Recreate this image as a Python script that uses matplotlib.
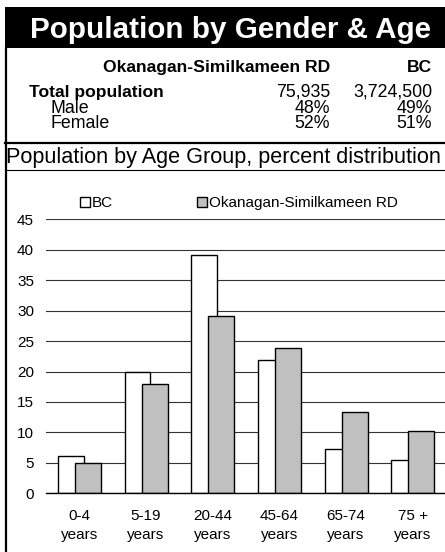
import matplotlib
matplotlib.use("Agg")
import matplotlib.pyplot as plt
from matplotlib.patches import Rectangle, Patch
from matplotlib.lines import Line2D
import numpy as np

plt.rcParams['font.family'] = ['Liberation Sans', 'DejaVu Sans']

title = "Population by Gender & Age"
region = "Okanagan-Similkameen RD"
prov = "BC"
row_labels = ["Total population", "Male", "Female"]
region_vals = ["75,935", "48%", "52%"]
prov_vals = ["3,724,500", "49%", "51%"]
subtitle = "Population by Age Group, percent distribution"

categories = ["0-4\nyears", "5-19\nyears", "20-44\nyears", "45-64\nyears", "65-74\nyears", "75 +\nyears"]
bc_values = [6.2, 20.0, 39.1, 21.9, 7.3, 5.5]
region_values = [5.0, 18.0, 29.2, 23.9, 13.4, 10.3]
yticks = [0, 5, 10, 15, 20, 25, 30, 35, 40, 45]

W, H = 445, 552
fig = plt.figure(figsize=(W / 100, H / 100), dpi=100)

def fx(px):
    return px / W

def fy(py):
    return 1 - py / H

# Black title bar
fig.patches.append(Rectangle((fx(5), fy(48)), fx(445) - fx(5), fy(7) - fy(48),
                             transform=fig.transFigure, facecolor='black', edgecolor='none'))
fig.text(fx(30), fy(37.7), title, color='white', fontsize=21.3, fontweight='bold',
         ha='left', va='baseline')

# frame lines
fig.lines.append(Line2D([fx(6), fx(6)], [fy(48), fy(552)], transform=fig.transFigure,
                        color='black', lw=1.6))
fig.lines.append(Line2D([fx(5), fx(445)], [fy(143), fy(143)], transform=fig.transFigure,
                        color='black', lw=1.6))
fig.lines.append(Line2D([fx(5), fx(445)], [fy(169.5), fy(169.5)], transform=fig.transFigure,
                        color='black', lw=0.8))

# table
tfs = 12.8
bfs = 12.6
fig.text(fx(330), fy(71.7), region, fontsize=bfs, fontweight='bold', ha='right', va='baseline')
fig.text(fx(432), fy(71.7), prov, fontsize=bfs, fontweight='bold', ha='right', va='baseline')
row_y = [96.7, 112.7, 128.3]
row_x = [29, 50, 50]
for i, lab in enumerate(row_labels):
    fig.text(fx(row_x[i]), fy(row_y[i]), lab, fontsize=bfs if i == 0 else tfs,
             fontweight='bold' if i == 0 else 'normal', ha='left', va='baseline')
    fig.text(fx(330), fy(row_y[i]), region_vals[i], fontsize=tfs, ha='right', va='baseline')
    fig.text(fx(432), fy(row_y[i]), prov_vals[i], fontsize=tfs, ha='right', va='baseline')

fig.text(fx(6), fy(163.3), subtitle, fontsize=15.6, ha='left', va='baseline')

# chart
ax = fig.add_axes([fx(46), fy(493.3), fx(446) - fx(46), fy(219.3) - fy(493.3)])
x = np.arange(len(categories))
ax.bar(x - 0.13, bc_values, width=0.385, color='white', edgecolor='black', linewidth=1.0,
       zorder=3, label=prov)
ax.bar(x + 0.13, region_values, width=0.39, color='#c0c0c0', edgecolor='black', linewidth=1.0,
       zorder=4, label=region)
ax.set_xlim(-0.5, len(categories) - 0.5)
ax.set_ylim(0, 45)
ax.set_yticks(yticks)
ax.set_yticklabels([str(v) for v in yticks], fontsize=11)
ax.set_xticks(x)
ax.set_xticklabels(categories, fontsize=11, linespacing=1.4)
ax.tick_params(axis='y', length=0, pad=8.6)
ax.tick_params(axis='x', length=0, pad=11.5)
ax.grid(axis='y', color='#333333', linewidth=0.8, zorder=0)
for s in ['left', 'right', 'top']:
    ax.spines[s].set_visible(False)
ax.spines['bottom'].set_color('black')
ax.spines['bottom'].set_linewidth(1.0)
ax.spines['bottom'].set_zorder(5)

handles = [Patch(facecolor='white', edgecolor='black', linewidth=1.0),
           Patch(facecolor='#c0c0c0', edgecolor='black', linewidth=1.0)]
fig.legend(handles, [prov, region], ncol=2, loc='center',
           bbox_to_anchor=(fx(239), fy(203)), frameon=False, fontsize=11,
           handlelength=0.65, handleheight=0.65, handletextpad=0.15,
           columnspacing=5.5, borderpad=0, borderaxespad=0)

fig.savefig("out.png", dpi=100, facecolor='white')
